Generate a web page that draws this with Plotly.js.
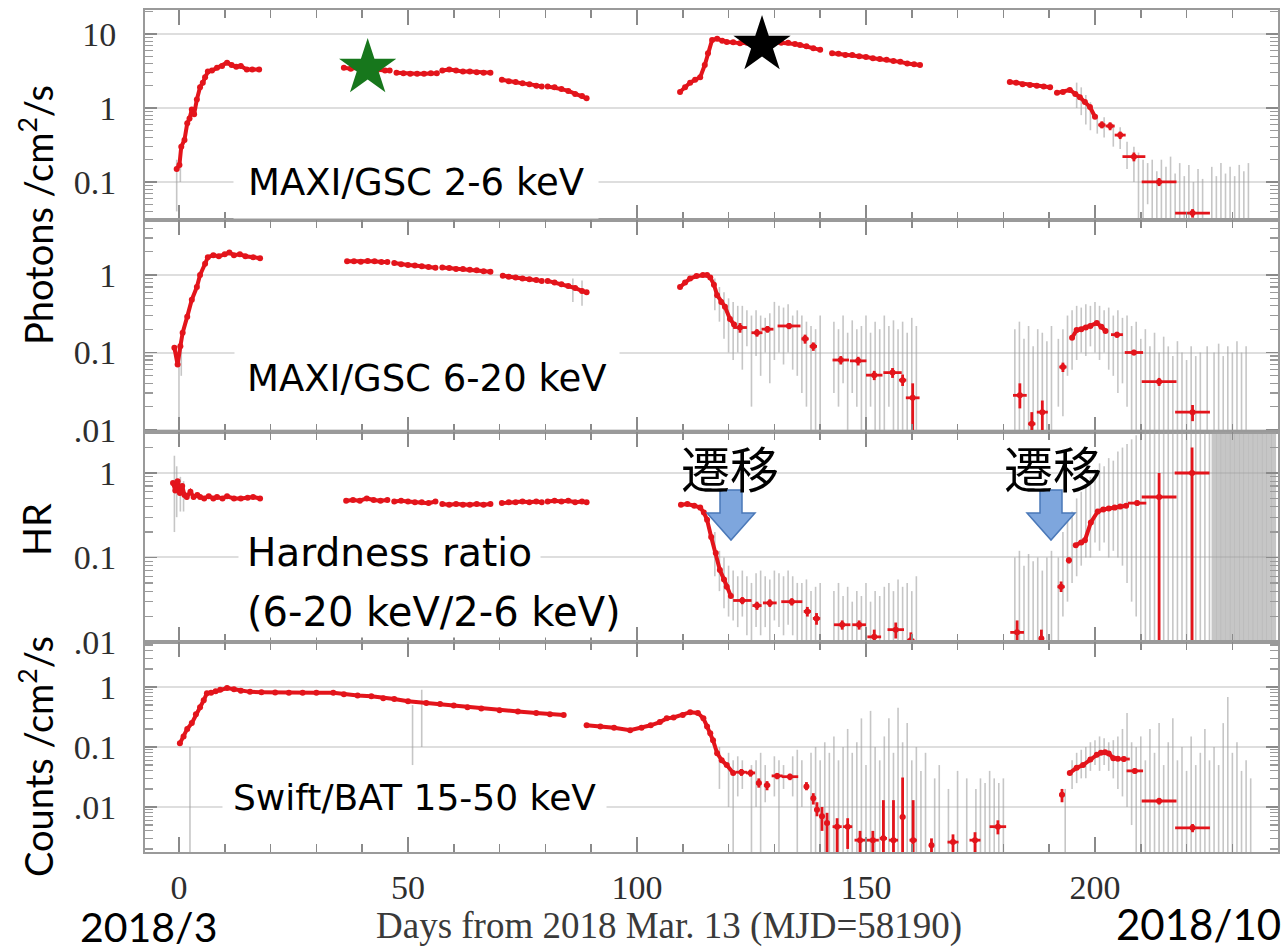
<!DOCTYPE html>
<html><head><meta charset="utf-8">
<script src="https://cdn.plot.ly/plotly-3.0.1.min.js"></script>
<style>html,body{margin:0;padding:0;background:#fff}#chart{width:1286px;height:950px}</style>
</head><body><div id="chart"></div><script>
// ---------------- DATA ----------------
// x tick labels (days)
const dayTicks = [0, 50, 100, 150, 200];
const dayTickText = ['0', '50', '100', '150', '200'];
const logTicks = [0.01, 0.1, 1, 10];
const logTickText = ['.01', '0.1', '1', '10'];
const logMinor = [0.002,0.003,0.004,0.005,0.006,0.007,0.008,0.009,0.02,0.03,0.04,0.05,0.06,0.07,0.08,0.09,0.2,0.3,0.4,0.5,0.6,0.7,0.8,0.9,2,3,4,5,6,7,8,9,20];

// Panel 1: MAXI/GSC 2-6 keV (photons/cm2/s) — daily points (null = gap)
const softX = [-0.5,0.1,0.5,1.2,1.8,2.3,2.8,3.3,3.9,4.6,5.2,5.7,6.3,7.2,8.3,9.4,10.5,11.5,12.5,13.5,14.8,16,17.5,null,
  36,37.5,39,40.5,42,43.5,45,46,null,47.5,49,50.5,52,53.5,55,56.3,null,57.5,59,60.5,62,63.5,65,66.5,68,null,
  70.5,72,73.5,75,76.5,78,79.2,null,80.5,82,83.5,85,86.5,88,89,null,
  109.4,110.5,111.6,112.7,113.8,114.8,115.5,116.4,117.5,118.6,119.6,121,122.5,124,125.5,127,128.5,130,131.5,133,134.5,135.6,137,138.5,140,null,
  142.6,144,145.5,147,148.5,150,151.5,153,154.5,156,157.5,159,160.5,161.8,null,
  181.4,182.8,184.2,185.8,187.3,188.8,190.2,null,191.7,193,194.5,195.7,196.7,197.8,198.9,200];
const softY = [0.15,0.17,0.30,0.37,0.62,0.72,0.95,0.82,1.3,1.9,2.2,2.6,3.1,3.2,3.5,3.7,4.1,3.8,3.6,3.7,3.3,3.3,3.3,null,
  3.5,3.4,3.5,3.4,3.3,3.3,3.2,3.2,null,3.0,2.95,2.9,2.9,2.9,2.95,2.95,null,3.2,3.3,3.2,3.1,3.1,3.05,3.0,3.0,null,
  2.4,2.3,2.25,2.15,2.1,2.0,1.95,null,1.95,1.9,1.8,1.7,1.55,1.45,1.35,null,
  1.65,1.9,2.2,2.4,2.6,3.8,5.5,8.3,8.6,8.1,7.8,7.7,7.5,7.6,7.8,7.6,7.5,7.7,7.6,7.6,7.3,7.1,6.8,6.4,6.1,null,
  5.5,5.4,5.2,5.2,5.0,4.9,4.7,4.6,4.5,4.3,4.2,4.0,3.9,3.8,null,
  2.25,2.2,2.1,2.05,2.0,1.95,1.9,null,1.6,1.65,1.75,1.55,1.4,1.2,1.03,0.76];
// binned points: centre, value, half-width, low, high
const softBinX  = [201.5, 203.3, 205.5, 208.5, 214, 221.3];
const softBinY  = [0.59, 0.57, 0.43, 0.22, 0.10, 0.038];
const softBinXe = [0.8, 1.0, 1.2, 2.5, 3.8, 3.8];
const softBinLo = [0.53, 0.50, 0.38, 0.19, 0.088, 0.033];
const softBinHi = [0.66, 0.64, 0.48, 0.25, 0.113, 0.043];
// grey single-day error bars
const softGreyX  = [-0.5,0.3,196,197,198,199,200.5,202,204,205.5,207,208.5,209.5,210.5,211.5,212.5,213.5,214.5,215.5,216.5,217.5,218.5,219.5,220.5,221.5,222.5,223.5,225.5,226.5,227.5,228.5,229.5,230.5,231.5,232.5,233.5];
const softGreyLo = [0.04,0.1,1.0,0.8,0.6,0.5,0.45,0.4,0.3,0.28,0.15,0.1,0.02,0.02,0.05,0.02,0.02,0.03,0.02,0.02,0.02,0.02,0.02,0.02,0.02,0.02,0.02,0.02,0.02,0.02,0.02,0.02,0.02,0.02,0.02,0.02];
const softGreyHi = [0.2,0.3,2.2,1.9,1.5,1.2,0.8,0.75,0.6,0.55,0.35,0.3,0.25,0.2,0.18,0.2,0.14,0.2,0.16,0.22,0.13,0.18,0.12,0.17,0.1,0.15,0.11,0.16,0.12,0.18,0.13,0.16,0.12,0.17,0.14,0.18];

// Panel 2: MAXI/GSC 6-20 keV
const hardX = [-1,-0.3,0.3,0.8,1.8,2.8,3.9,4.6,5.7,6.3,7.5,8.7,10,11,12,13.3,14.5,16.2,17.7,null,
  36.7,38.2,39.7,41.2,42.7,44.2,45.5,null,47,48.5,50,51.5,53,54.5,56,null,57.5,59,60.5,62,63.5,65,66.5,68,null,
  70.7,72,73.5,75,76.5,78,79.2,null,80.5,82,83.5,85,86.5,88,89,null,
  109.4,110.5,111.6,113,114.4,115.3,116,116.8,117.5,118.4,119.2,120.3,121.2,null,
  195,196,197,198,199,200.4,201.4,202.3];
const hardY = [0.115,0.07,0.12,0.18,0.29,0.48,0.7,1.0,1.4,1.7,1.8,1.75,1.85,1.95,1.8,1.85,1.75,1.7,1.65,null,
  1.5,1.5,1.48,1.52,1.5,1.47,1.47,null,1.43,1.38,1.35,1.33,1.3,1.27,1.24,null,1.25,1.23,1.2,1.2,1.17,1.15,1.12,1.1,null,
  0.98,0.95,0.93,0.9,0.88,0.86,0.84,null,0.84,0.8,0.76,0.72,0.68,0.62,0.6,null,
  0.7,0.8,0.9,0.97,1.0,1.0,0.93,0.75,0.55,0.45,0.39,0.27,0.23,null,
  0.155,0.195,0.2,0.21,0.22,0.24,0.215,0.19];
const hardBinX  = [122.5,126.2,128.5,133.2,136.7,138.5,144.5,148.3,151.8,155.8,158,160.2,183.6,186.2,188.5,193,204.8,208.5,214,221.3];
const hardBinY  = [0.21,0.18,0.2,0.22,0.15,0.12,0.08,0.078,0.051,0.055,0.044,0.026,0.028,0.012,0.017,0.065,0.17,0.1,0.042,0.017];
const hardBinXe = [1.5,1.2,1.3,2.5,0.8,0.8,1.8,1.8,1.8,2,0.8,1.5,1.5,0.8,1.2,0.8,1.3,2,3.8,3.8];
const hardBinLo = [0.18,0.16,0.18,0.2,0.13,0.105,0.07,0.068,0.044,0.047,0.037,0.006,0.019,0.006,0.01,0.056,0.155,0.092,0.037,0.013];
const hardBinHi = [0.24,0.2,0.22,0.24,0.17,0.135,0.09,0.088,0.058,0.063,0.052,0.04,0.04,0.017,0.024,0.074,0.185,0.108,0.047,0.021];
const hardGreyX  = [0,0.5,86,88,117,118,119,120,121,122,123,124,125,126,127,128,129,130,131,132,133,134,135,136,137,138,139,140,
  143,144,145,146,147,148,149,150,151,152,153,154,155,156,157,158,159,160,161,
  182.5,183.5,184.5,185.5,186.5,187.5,188.5,189.5,190.5,192,193,194,195,196,197,198,199,200,201,202,203,204,205,206,207,208,
  209,210,211,212,213,214,215,216,217,218,219,220,221,222,223,224.5,226,227,228,229,230,231,232,233];
const hardGreyLo = [0.008,0.05,0.45,0.4,0.35,0.25,0.15,0.1,0.08,0.1,0.06,0.12,0.02,0.09,0.05,0.1,0.04,0.08,0.1,0.07,0.1,0.06,0.05,0.03,0.02,0.008,0.008,0.008,
  0.03,0.02,0.04,0.01,0.03,0.02,0.008,0.01,0.02,0.008,0.01,0.008,0.02,0.008,0.01,0.008,0.008,0.008,0.008,
  0.008,0.008,0.008,0.008,0.008,0.008,0.008,0.008,0.01,0.02,0.015,0.05,0.06,0.08,0.1,0.09,0.12,0.1,0.08,0.1,0.06,0.05,0.03,0.04,0.02,0.01,
  0.008,0.008,0.008,0.008,0.008,0.008,0.008,0.008,0.008,0.008,0.008,0.008,0.008,0.008,0.008,0.008,0.008,0.008,0.008,0.008,0.008,0.008,0.008,0.008];
const hardGreyHi = [0.13,0.15,0.9,0.85,0.9,0.7,0.6,0.5,0.45,0.4,0.4,0.35,0.3,0.35,0.3,0.28,0.32,0.45,0.4,0.38,0.42,0.3,0.35,0.3,0.25,0.22,0.2,0.3,
  0.25,0.2,0.3,0.18,0.26,0.2,0.22,0.3,0.18,0.25,0.2,0.3,0.22,0.26,0.2,0.25,0.18,0.28,0.22,
  0.2,0.25,0.15,0.22,0.12,0.2,0.18,0.14,0.22,0.15,0.2,0.3,0.35,0.4,0.38,0.42,0.4,0.45,0.4,0.35,0.38,0.3,0.35,0.28,0.3,0.22,
  0.25,0.15,0.2,0.12,0.18,0.1,0.16,0.12,0.09,0.14,0.1,0.08,0.12,0.09,0.1,0.12,0.1,0.13,0.09,0.12,0.1,0.14,0.1,0.12];

// Panel 3: hardness ratio
const hrX = [-1.3,-0.8,-0.3,0.2,0.7,1.2,1.7,2.5,3.2,4,4.6,5.5,6.5,7.5,8.3,9.5,10.5,12,13.5,15,16.2,17.7,null,
  36.5,38,39.5,41,42.5,44,45.5,null,47,48.5,50,51.5,53,54.5,56,null,57.5,59,60.5,62,63.5,65,66.5,68,null,
  70.5,72,73.5,75,76.5,78,79.2,null,80.5,82,83.5,85,86.5,88,89,null,
  109.6,111,112.5,113.8,114.6,115.3,116.2,117.2,118.1,119,119.6,120.5,null,
  195.8,197,197.8,199.1,200.6,201.8,203,204.3,205.5,206.8];
const hrY = [0.76,0.62,0.8,0.58,0.7,0.55,0.52,0.6,0.52,0.55,0.52,0.5,0.53,0.5,0.52,0.5,0.53,0.5,0.5,0.51,0.52,0.5,null,
  0.47,0.48,0.47,0.5,0.48,0.47,0.48,null,0.46,0.47,0.46,0.45,0.45,0.44,0.46,null,0.43,0.42,0.43,0.42,0.42,0.43,0.42,0.43,null,
  0.44,0.45,0.45,0.46,0.45,0.46,0.45,null,0.46,0.47,0.46,0.47,0.45,0.46,0.45,null,
  0.42,0.43,0.41,0.39,0.34,0.28,0.175,0.113,0.071,0.055,0.045,0.035,null,
  0.14,0.15,0.16,0.26,0.35,0.37,0.38,0.39,0.4,0.41];
const hrBinX  = [123,126.2,129,133.8,137.2,139.2,144.8,148.5,151.8,156.5,159.8,183,188.3,192.6,194.3,209.2,214,221.2];
const hrBinY  = [0.031,0.027,0.029,0.03,0.023,0.019,0.016,0.016,0.0115,0.014,0.0105,0.013,0.011,0.045,0.093,0.44,0.52,1.0];
const hrBinXe = [2,1,1.5,2.3,0.8,0.8,1.8,1.5,1.5,1.8,0.8,1.5,0.3,0.8,0.6,2,3.8,3.8];
const hrBinLo = [0.028,0.024,0.026,0.027,0.02,0.016,0.014,0.014,0.009,0.011,0.008,0.009,0.008,0.039,0.085,0.41,0.001,0.001];
const hrBinHi = [0.034,0.03,0.032,0.033,0.026,0.022,0.018,0.018,0.014,0.017,0.013,0.018,0.014,0.052,0.1,0.47,1.0,2.0];
const hrGreyX  = [-1,-0.5,0.3,1,117,118,119,120,121,122,123,124,125,126,127,128,129,130,131,132,133,134,135,136,137,138,139,140,
  143,144,145,146,147,148,149,150,151,152,153,154,155,156,157,158,159,160,161,
  182.5,183.5,184.5,185.5,186.5,187.5,188.5,189.5,190.5,192,193,194,195,196,197,198,199,200,201,202,203,204,205,206,207,208,209,210,
  211,212,213,214,215,216,217,218,219,220,221,222,223,224,225];
const hrGreyLo = [0.2,0.3,0.35,0.35,0.06,0.04,0.025,0.02,0.018,0.015,0.02,0.012,0.01,0.015,0.012,0.015,0.01,0.018,0.015,0.012,0.016,0.012,0.01,0.008,0.008,0.008,0.008,0.008,
  0.008,0.008,0.008,0.008,0.008,0.008,0.008,0.008,0.008,0.008,0.008,0.008,0.008,0.008,0.008,0.008,0.008,0.008,0.008,
  0.008,0.008,0.008,0.008,0.008,0.008,0.008,0.008,0.008,0.01,0.02,0.03,0.05,0.06,0.08,0.1,0.1,0.15,0.12,0.15,0.1,0.12,0.1,0.08,0.05,0.03,0.02,0.008,
  0.008,0.008,0.008,0.008,0.008,0.008,0.008,0.008,0.008,0.008,0.008,0.008,0.008,0.008,0.008];
const hrGreyHi = [1.6,1.2,0.9,0.8,0.2,0.12,0.1,0.08,0.07,0.06,0.07,0.06,0.05,0.065,0.07,0.06,0.055,0.07,0.065,0.06,0.07,0.06,0.05,0.05,0.055,0.04,0.045,0.05,
  0.04,0.05,0.035,0.045,0.03,0.04,0.035,0.05,0.03,0.04,0.035,0.045,0.05,0.04,0.055,0.045,0.05,0.04,0.06,
  0.1,0.12,0.08,0.11,0.09,0.1,0.07,0.1,0.12,0.1,0.2,0.3,0.35,0.5,0.6,0.7,0.9,1.1,1.3,1.2,1.5,1.4,1.8,2,2.2,2.5,2.8,3.5,
  4,4,4,4,4,4,4,4,4,4,4,4,4,4,4];
const hrBlockX = [226,227,228,229,230,231,232,233,234,235,236,237,238,239];
const hrBlockLo = [0.008,0.008,0.008,0.008,0.008,0.008,0.008,0.008,0.008,0.008,0.008,0.008,0.008,0.008];
const hrBlockHi = [4,4,4,4,4,4,4,4,4,4,4,4,4,4];

// Panel 4: Swift/BAT 15-50 keV (counts/cm2/s)
const batX = [0.2,1,1.8,2.8,3.7,4.6,5.4,6.1,7,8,9,10.5,12,13.5,15.5,18,21,24,27,30,33.7,36,39,42,44.6,47,50,54,57,60,63,66,70,74,78,81,84,null,
  89,92,95,98.5,101,103,105,106.5,108,110,111.6,113.3,114.5,115.3,116,116.6,117.5,118.5,119.6,121,null,
  194.5,196,197.4,199,200.4,201.3,202.2,203,204,205];
const batY = [0.115,0.15,0.2,0.25,0.35,0.46,0.6,0.79,0.8,0.85,0.9,0.96,0.92,0.87,0.83,0.82,0.81,0.8,0.8,0.8,0.8,0.76,0.72,0.7,0.65,0.63,0.58,0.54,0.52,0.49,0.46,0.44,0.41,0.39,0.37,0.35,0.34,null,
  0.23,0.22,0.21,0.19,0.21,0.23,0.26,0.3,0.31,0.34,0.38,0.37,0.3,0.22,0.17,0.13,0.079,0.06,0.05,0.037,null,
  0.037,0.045,0.05,0.062,0.074,0.08,0.082,0.078,0.065,0.064];
const batBinX  = [122.8,124.8,126.6,128.4,130.6,133.4,137,138.5,139.3,140.4,141.5,143.7,146,148.7,151.5,153.8,156,158,160.3,164.3,169,173.8,178.8,192.8,206.3,208.7,214,221.3];
const batBinY  = [0.038,0.037,0.025,0.023,0.033,0.032,0.022,0.014,0.009,0.007,0.0054,0.0047,0.0047,0.0028,0.0028,0.003,0.0028,0.0068,0.0028,0.0023,0.0026,0.0028,0.0047,0.016,0.063,0.04,0.0126,0.0045];
const batBinXe = [1.2,1,0.6,0.7,1.2,1.8,0.5,0.5,0.5,0.5,0.6,1,1,1.2,1.3,0.8,1,0.6,0.8,0.3,1.2,1.2,1.8,0.6,1.3,1.8,3.8,3.8];
const batBinLo = [0.033,0.032,0.021,0.019,0.029,0.028,0.019,0.011,0.007,0.004,0.0015,0.0015,0.002,0.0015,0.0015,0.0015,0.0015,0.0015,0.0015,0.0015,0.0015,0.0015,0.0035,0.012,0.057,0.036,0.011,0.0038];
const batBinHi = [0.043,0.042,0.03,0.027,0.037,0.036,0.026,0.017,0.012,0.01,0.008,0.0065,0.0065,0.004,0.004,0.013,0.013,0.031,0.013,0.003,0.0035,0.0038,0.006,0.02,0.069,0.044,0.0142,0.0052];
const batGreyX  = [2.4,51,53,118,120,121,122,123,125,126,127,128,130,131,132,134,135,136,138,139,140,141,142,143,144,145,146,147,148,149,150,151,152,153,154,155,156,157,158,159,160,161,162,163,165,166,168,170,172,174,175,176,177,178,179,180,
  193.5,195,196,197,198,199,200,201,202,203,204,205,206,207,208,209,210,211,212,213,214,215,216,217,218,219,220,221,222,223,224,225,226,227,228,229,230,231,232,233,234];
const batGreyLo = [0.0015,0.05,0.1,0.02,0.01,0.0015,0.015,0.02,0.0015,0.01,0.0015,0.012,0.015,0.0015,0.02,0.015,0.0015,0.01,0.0015,0.0015,0.0015,0.0015,0.0015,0.0015,0.0015,0.0015,0.0015,0.0015,0.0015,0.0015,0.0015,0.0015,0.0015,0.0015,0.0015,0.0015,0.0015,0.0015,0.0015,0.0015,0.0015,0.0015,0.0015,0.0015,0.0015,0.0015,0.0015,0.0015,0.0015,0.0015,0.0015,0.0015,0.0015,0.0015,0.0015,0.0015,
  0.0015,0.02,0.025,0.03,0.03,0.04,0.05,0.04,0.05,0.04,0.03,0.02,0.015,0.01,0.005,0.0015,0.0015,0.0015,0.0015,0.0015,0.0015,0.0015,0.0015,0.0015,0.0015,0.0015,0.0015,0.0015,0.0015,0.0015,0.0015,0.0015,0.0015,0.0015,0.0015,0.0015,0.0015,0.0015,0.0015,0.0015,0.0015];
const batGreyHi = [0.1,0.5,0.9,0.1,0.08,0.06,0.07,0.06,0.05,0.06,0.08,0.05,0.07,0.06,0.05,0.07,0.09,0.06,0.08,0.1,0.06,0.12,0.08,0.15,0.06,0.1,0.2,0.08,0.12,0.3,0.05,0.4,0.1,0.06,0.15,0.3,0.08,0.45,0.12,0.25,0.06,0.1,0.04,0.08,0.03,0.05,0.02,0.04,0.03,0.02,0.03,0.025,0.04,0.03,0.025,0.03,
  0.02,0.06,0.08,0.09,0.1,0.12,0.13,0.15,0.14,0.12,0.13,0.15,0.2,0.37,0.12,0.1,0.15,0.06,0.2,0.08,0.25,0.05,0.12,0.3,0.06,0.1,0.04,0.15,0.05,0.08,0.2,0.06,0.1,0.05,0.25,0.68,0.08,0.12,0.04,0.06,0.03];

// Marker stars (day, flux) in panel 1
const starX = [41.2, 127.3];
const starY = [3.47, 7.1];

// ---------------- FIGURE ----------------
const W = 1286, H = 950;
const px = v => v / W, py = v => 1 - v / H;
const RED = '#e3141b';
const GREY = 'rgba(160,160,160,0.6)';
const AXC = '#9a9a9a';
const tickFont = {family: 'Liberation Serif, Times New Roman, serif', size: 34, color: '#2e2e2e'};
const XR = [-7.42, 239.96];

const panels = [
  {x: softX, y: softY, bx: softBinX, by: softBinY, bxe: softBinXe, blo: softBinLo, bhi: softBinHi, gx: softGreyX, glo: softGreyLo, ghi: softGreyHi, dom: [py(220), py(10)], range: [-1.514, 1.324]},
  {x: hardX, y: hardY, bx: hardBinX, by: hardBinY, bxe: hardBinXe, blo: hardBinLo, bhi: hardBinHi, gx: hardGreyX, glo: hardGreyLo, ghi: hardGreyHi, dom: [py(432), py(220)], range: [-2.026, 0.71]},
  {x: hrX, y: hrY, bx: hrBinX, by: hrBinY, bxe: hrBinXe, blo: hrBinLo, bhi: hrBinHi, gx: hrGreyX, glo: hrGreyLo, ghi: hrGreyHi, dom: [py(642), py(432)], range: [-2.0, 0.485]},
  {x: batX, y: batY, bx: batBinX, by: batBinY, bxe: batBinXe, blo: batBinLo, bhi: batBinHi, gx: batGreyX, glo: batGreyLo, ghi: batGreyHi, dom: [py(852), py(642)], range: [-2.75, 0.75]}
];

const traces = [];
const layout = {
  width: W, height: H, margin: {l: 0, r: 0, t: 0, b: 0},
  paper_bgcolor: '#fff', plot_bgcolor: '#fff', showlegend: false,
  annotations: [], shapes: []
};

function greyTrace(gx, glo, ghi, xa, ya, thick) {
  return {
    type: 'scatter', mode: 'markers', x: gx, y: ghi, xaxis: xa, yaxis: ya,
    marker: {size: 1, opacity: 0}, hoverinfo: 'skip',
    error_y: {type: 'data', symmetric: false, array: ghi.map(() => 0), arrayminus: ghi.map((h, i) => h - glo[i]), color: GREY, thickness: thick, width: 0}
  };
}

panels.forEach((p, i) => {
  const n = i === 0 ? '' : String(i + 1);
  const xa = 'x' + n, ya = 'y' + n;
  traces.push(greyTrace(p.gx, p.glo, p.ghi, xa, ya, 1.6));
  if (i === 2) traces.push(greyTrace(hrBlockX, hrBlockLo, hrBlockHi, xa, ya, 5));
  traces.push({
    type: 'scatter', mode: 'lines+markers', x: p.x, y: p.y, xaxis: xa, yaxis: ya,
    connectgaps: false, line: {color: RED, width: 4}, marker: {color: RED, size: 6}
  });
  traces.push({
    type: 'scatter', mode: 'markers', x: p.bx, y: p.by, xaxis: xa, yaxis: ya,
    marker: {color: RED, size: 6},
    error_x: {type: 'data', array: p.bxe, color: RED, thickness: 2.8, width: 0},
    error_y: {type: 'data', symmetric: false, array: p.bhi.map((h, k) => h - p.by[k]), arrayminus: p.by.map((v, k) => v - p.blo[k]), color: RED, thickness: 2.8, width: 0}
  });
  layout['xaxis' + n] = {
    domain: [px(145), px(1278)], range: XR, anchor: ya,
    showline: true, linecolor: AXC, linewidth: 2, mirror: 'ticks',
    ticks: 'inside', ticklen: 15, tickwidth: 1.5, tickcolor: '#8a8a8a',
    tickmode: 'array', tickvals: dayTicks, ticktext: dayTickText,
    showticklabels: i === 3, tickfont: tickFont, ticklabelstandoff: 4,
    showgrid: false, zeroline: false,
    minor: {ticks: 'inside', dtick: 10, tick0: 0, ticklen: 8, tickwidth: 1.5, tickcolor: '#8a8a8a', showgrid: false}
  };
  layout['yaxis' + n] = {
    domain: p.dom, type: 'log', range: p.range, anchor: xa,
    showline: true, linecolor: AXC, linewidth: 2, mirror: 'ticks',
    ticks: 'inside', ticklen: 12, tickwidth: 1.5, tickcolor: '#8a8a8a',
    tickmode: 'array', tickvals: logTicks, ticktext: logTickText,
    tickfont: tickFont, ticklabelstandoff: 20,
    showgrid: true, gridcolor: '#dedede', gridwidth: 2, zeroline: false,
    minor: {ticks: 'inside', tickmode: 'array', tickvals: logMinor, ticklen: 8, tickwidth: 1.2, tickcolor: '#9a9a9a', showgrid: false}
  };
});

traces.push({
  type: 'scatter', mode: 'markers', x: starX, y: starY, xaxis: 'x', yaxis: 'y',
  marker: {symbol: 'star', size: 43, color: ['#17771c', '#000000'], line: {width: 0}}
});

const lato = 'Lato, Carlito, Calibri, sans-serif';
const wide = 'DejaVu Sans, Verdana, sans-serif';
function note(text, x, y, size, opts, fam) {
  layout.annotations.push(Object.assign({
    text: text, xref: 'paper', yref: 'paper', x: px(x), y: py(y), showarrow: false,
    xanchor: 'center', yanchor: 'middle', font: {family: fam || lato, size: size, color: '#000'}
  }, opts || {}));
}
note('MAXI/GSC 2-6 keV', 416, 182, 37, {bgcolor: '#fff', borderpad: 14}, wide);
note('MAXI/GSC 6-20 keV', 427, 378, 37, {bgcolor: '#fff', borderpad: 12}, wide);
note('Hardness ratio', 238, 552, 39, {xanchor: 'left', bgcolor: '#fff', borderpad: 8}, wide);
note('(6-20 keV/2-6 keV)', 244, 612, 40, {xanchor: 'left', bgcolor: '#fff', borderpad: 2}, wide);
note('Swift/BAT 15-50 keV', 415, 797, 36, {bgcolor: '#fff', borderpad: 10}, wide);
note('遷移', 730, 466, 49, {}, 'Noto Sans CJK JP, sans-serif');
note('遷移', 1053, 466, 49, {}, 'Noto Sans CJK JP, sans-serif');
note('Photons /cm<sup>2</sup>/s', 36, 215, 38, {textangle: -90});
note('HR', 36, 530, 38, {textangle: -90});
note('Counts /cm<sup>2</sup>/s', 36, 757, 38, {textangle: -90});
note('2018/3', 148, 926, 41, {borderpad: 0});
note('2018/10', 1198, 924, 42);
note('Days from 2018 Mar. 13 (MJD=58190)', 669, 926, 37, {font: {family: 'Liberation Serif, serif', size: 37, color: '#3a3a3a'}});

// block arrows
function arrow(cx) {
  const sl = cx - 11, sr = cx + 11, hl = cx - 24, hr = cx + 24;
  const path = 'M' + px(sl) + ',' + py(490) + ' L' + px(sr) + ',' + py(490) + ' L' + px(sr) + ',' + py(513) +
    ' L' + px(hr) + ',' + py(513) + ' L' + px(cx) + ',' + py(540) + ' L' + px(hl) + ',' + py(513) +
    ' L' + px(sl) + ',' + py(513) + ' Z';
  layout.shapes.push({type: 'path', xref: 'paper', yref: 'paper', path: path, fillcolor: '#7ea6dd', line: {color: '#4a78b8', width: 1.5}, layer: 'above'});
}
arrow(731);
arrow(1051);

Plotly.newPlot('chart', traces, layout, {staticPlot: true, displayModeBar: false});
</script></body></html>
